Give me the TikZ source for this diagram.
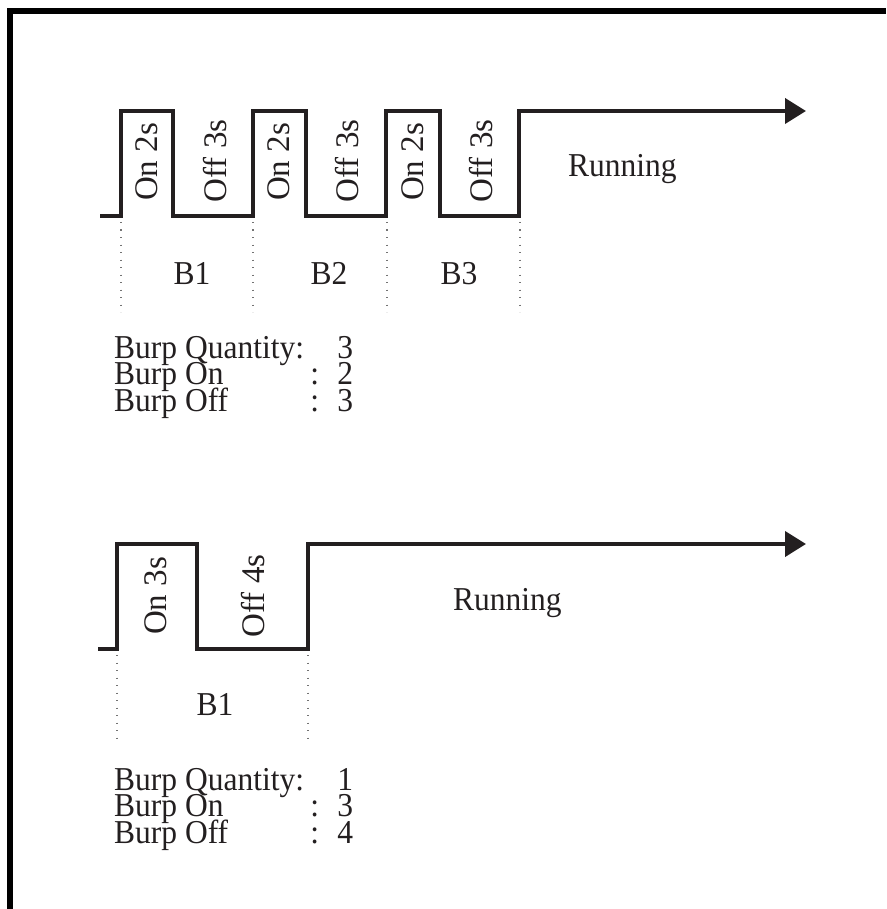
\documentclass[tikz,border=0pt]{standalone}
\usepackage{fontspec}
\setmainfont{Liberation Serif}
\usetikzlibrary{arrows.meta}
\definecolor{ink}{RGB}{35,31,32}
\newcommand{\burprows}[6]{%
  \vtop{\lineskiplimit=-100pt\lineskip=0pt
    \hbox{\makebox[211pt][l]{#1}\makebox[40pt][c]{#2}}%
    \hbox{\makebox[190pt][l]{#3}\makebox[21pt][c]{:}\makebox[40pt][c]{#4}}%
    \hbox{\makebox[190pt][l]{#5}\makebox[21pt][c]{:}\makebox[40pt][c]{#6}}}}
\begin{document}
\begin{tikzpicture}[x=1pt,y=-1pt,
  wave/.style={line width=4pt, line join=miter, draw=ink},
  framebox/.style={line width=5.5pt, line join=miter, draw=black},
  guide/.style={line width=1.2pt, draw=black!55, dash pattern=on 1.2pt off 6.3pt},
  txt/.style={inner sep=0pt, text=ink, font=\fontsize{31.5}{25.2}\selectfont, yscale=1.06, transform shape},
  vtxt/.style={inner sep=0pt, text=ink, font=\fontsize{33}{33}\selectfont, rotate=90},
  tipend/.style={-{Triangle[length=21pt,width=25pt]}}]
\useasboundingbox (0,0) rectangle (886,909);
% frame
\coordinate (fb) at (10,909);
\coordinate (fc) at (10,11);
\coordinate (fr) at (886,11);
\draw[framebox] (fb) -- (fc) -- (fr);

% ---------- waveform 1 ----------
\coordinate (a0) at (100,216);
\coordinate (a1) at (121,216); \coordinate (a1t) at (121,111);
\coordinate (a2t) at (173,111); \coordinate (a2) at (173,216);
\coordinate (a3) at (253,216); \coordinate (a3t) at (253,111);
\coordinate (a4t) at (306,111); \coordinate (a4) at (306,216);
\coordinate (a5) at (386,216); \coordinate (a5t) at (386,111);
\coordinate (a6t) at (440,111); \coordinate (a6) at (440,216);
\coordinate (a7) at (519,216); \coordinate (a7t) at (519,111);
\coordinate (aend) at (806,111);
\draw[wave, tipend] (a0) -- (a1) -- (a1t) -- (a2t) -- (a2) -- (a3) -- (a3t) -- (a4t) -- (a4) -- (a5) -- (a5t) -- (a6t) -- (a6) -- (a7) -- (a7t) -- (aend);

% guides 1
\foreach \n/\x in {g1/121,g2/253,g3/387,g4/520}{
  \coordinate (\n a) at (\x,222); \coordinate (\n b) at (\x,312);
  \draw[guide] (\n a) -- (\n b);
}

% labels 1
\node[vtxt] (on1) at (147,162) {On 2s};
\node[vtxt] (off1) at (215,161) {Off 3s};
\node[vtxt] (on2) at (279,162) {On 2s};
\node[vtxt] (off2) at (347,161) {Off 3s};
\node[vtxt] (on3) at (413,162) {On 2s};
\node[vtxt] (off3) at (481,161) {Off 3s};
\node[txt, anchor=base west] (run1) at (568,177) {Running};
\node[txt, anchor=base] (b1) at (192,284) {B1};
\node[txt, anchor=base] (b2) at (329,284) {B2};
\node[txt, anchor=base] (b3) at (459,284) {B3};

\node[txt, anchor=base west] (info1) at (114,358)
  {\burprows{Burp Quantity:}{3}{Burp On}{2}{Burp Off}{3}};

% ---------- waveform 2 ----------
\coordinate (c0) at (98,649);
\coordinate (c1) at (117,649); \coordinate (c1t) at (117,544);
\coordinate (c2t) at (197,544); \coordinate (c2) at (197,649);
\coordinate (c3) at (308,649); \coordinate (c3t) at (308,544);
\coordinate (cend) at (806,544);
\draw[wave, tipend] (c0) -- (c1) -- (c1t) -- (c2t) -- (c2) -- (c3) -- (c3t) -- (cend);

\foreach \n/\x in {h1/117,h2/308}{
  \coordinate (\n a) at (\x,655); \coordinate (\n b) at (\x,743);
  \draw[guide] (\n a) -- (\n b);
}

\node[vtxt] (on4) at (156,596) {On 3s};
\node[vtxt] (off4) at (253,596) {Off 4s};
\node[txt, anchor=base west] (run2) at (453,610) {Running};
\node[txt, anchor=base] (b4) at (215,715) {B1};

\node[txt, anchor=base west] (info2) at (114,790)
  {\burprows{Burp Quantity:}{1}{Burp On}{3}{Burp Off}{4}};
\end{tikzpicture}
\end{document}
